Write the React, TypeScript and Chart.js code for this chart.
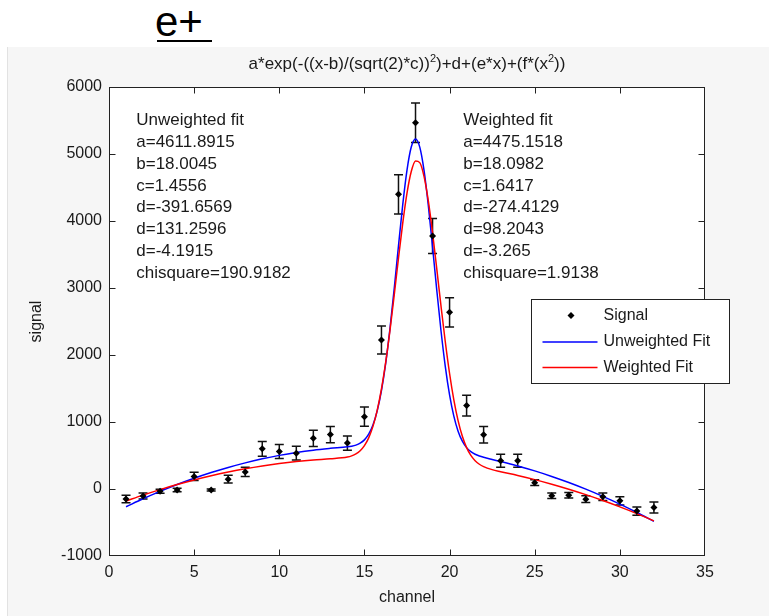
import React, { useEffect, useRef } from 'react';
import { Chart, registerables } from 'chart.js';

Chart.register(...registerables);

const FONT = '"Liberation Sans", Arial, Helvetica, sans-serif';
const TEXT = '#1a1a1a';

// ---- data ----
const channels = [1, 2, 3, 4, 5, 6, 7, 8, 9, 10, 11, 12, 13, 14, 15, 16, 17, 18, 19, 20, 21, 22, 23, 24, 25, 26, 27, 28, 29, 30, 31, 32];
const signal = [-150, -104, -35, -15, 188, -15, 147, 255, 600, 560, 535, 756, 812, 686, 1080, 2224, 4398, 5468, 3776, 2637, 1245, 810, 421, 421, 95, -100, -93, -152, -115, -176, -330, -275];
const signalError = [55, 45, 30, 25, 62, 15, 57, 70, 110, 106, 104, 120, 122, 106, 145, 210, 292, 295, 260, 219, 155, 122, 96, 96, 42, 40, 40, 50, 55, 62, 62, 82];

const fitX = [1, 2, 3, 4, 5, 6, 7, 8, 9, 10, 11, 12, 13, 14, 14.25, 14.5, 14.75, 15, 15.25, 15.5, 15.75, 16, 16.25, 16.5, 16.75, 17, 17.25, 17.5, 17.75, 18, 18.25, 18.5, 18.75, 19, 19.25, 19.5, 19.75, 20, 20.25, 20.5, 20.75, 21, 21.25, 21.5, 21.75, 22, 22.5, 23, 24, 25, 26, 27, 28, 29, 30, 31, 32];
const unweightedFit = [-264.6, -145.9, -35.6, 66.3, 159.9, 245.0, 321.8, 390.2, 450.2, 501.8, 545.0, 579.9, 606.5, 629.4, 639.2, 655.1, 683.4, 733.1, 818.0, 955.6, 1166.3, 1469.8, 1878.8, 2393.4, 2991.8, 3630.3, 4245.2, 4760.4, 5104.1, 5224.9, 5103.0, 4756.5, 4236.5, 3614.0, 2965.3, 2354.7, 1827.1, 1404.1, 1087.2, 863.5, 713.8, 617.6, 557.1, 518.4, 492.2, 472.6, 440.6, 410.1, 344.3, 270.1, 187.6, 96.7, -2.5, -110.2, -226.2, -350.6, -483.4];
const weightedFit = [-179.5, -91.1, -9.2, 66.2, 135.0, 197.3, 253.0, 302.3, 345.0, 381.1, 410.8, 433.9, 451.3, 477.1, 494.1, 522.9, 570.4, 646.5, 763.5, 935.0, 1174.4, 1492.5, 1892.6, 2367.1, 2896.1, 3445.4, 3969.2, 4416.4, 4737.9, 4896.2, 4871.3, 4665.6, 4303.5, 3825.6, 3281.8, 2723.5, 2193.7, 1724.0, 1331.3, 1021.0, 786.8, 618.3, 501.3, 422.3, 369.5, 333.8, 289.3, 258.6, 201.9, 140.1, 71.8, -3.1, -84.5, -172.4, -266.8, -367.7, -475.2];

const xRange = [0, 35];
const xStep = 5;
const yRange = [-1000, 6000];
const yStep = 1000;

const unweightedText = ['Unweighted fit', 'a=4611.8915', 'b=18.0045', 'c=1.4556', 'd=-391.6569', 'd=131.2596', 'd=-4.1915', 'chisquare=190.9182'];
const weightedText = ['Weighted fit', 'a=4475.1518', 'b=18.0982', 'c=1.6417', 'd=-274.4129', 'd=98.2043', 'd=-3.265', 'chisquare=1.9138'];
const textAnchorsX = [1.6, 20.8];
const textAnchorY = 5500;

const titleParts = [
  { t: 'a*exp(-((x-b)/(sqrt(2)*c))', sup: false },
  { t: '2', sup: true },
  { t: ')+d+(e*x)+(f*(x', sup: false },
  { t: '2', sup: true },
  { t: '))', sup: false },
];
const legendLabels = ['Signal', 'Unweighted Fit', 'Weighted Fit'];
const xTitle = 'channel';
const yTitle = 'signal';
const headerText = 'e+';

const BLUE = '#0000ff';
const RED = '#ff0000';

const areaPlugin = {
  id: 'areaFrame',
  beforeDraw(chart: any) {
    const { ctx, chartArea: a } = chart;
    ctx.save();
    ctx.fillStyle = '#ffffff';
    ctx.fillRect(a.left, a.top, a.right - a.left, a.bottom - a.top);
    ctx.restore();
  },
  afterDatasetsDraw(chart: any) {
    const { ctx, chartArea: a, scales } = chart;
    ctx.save();
    ctx.strokeStyle = '#222';
    ctx.lineWidth = 1;
    const L = Math.round(a.left) + 0.5;
    const R = Math.round(a.right) - 0.5;
    const T = Math.round(a.top) + 0.5;
    const B = Math.round(a.bottom) - 0.5;
    ctx.strokeRect(L, T, R - L, B - T);
    const tl = 6;
    ctx.beginPath();
    for (const t of scales.x.ticks) {
      const px = Math.min(R, Math.max(L, Math.round(scales.x.getPixelForValue(t.value)) + 0.5));
      ctx.moveTo(px, B); ctx.lineTo(px, B - tl);
      ctx.moveTo(px, T); ctx.lineTo(px, T + tl);
    }
    for (const t of scales.y.ticks) {
      const py = Math.min(B, Math.max(T, Math.round(scales.y.getPixelForValue(t.value)) + 0.5));
      ctx.moveTo(L, py); ctx.lineTo(L + tl, py);
      ctx.moveTo(R, py); ctx.lineTo(R - tl, py);
    }
    ctx.stroke();

    // fit annotations
    ctx.fillStyle = TEXT;
    ctx.font = `17px ${FONT}`;
    ctx.textBaseline = 'middle';
    ctx.textAlign = 'left';
    const blocks = [unweightedText, weightedText];
    blocks.forEach((lines, bi) => {
      const x = scales.x.getPixelForValue(textAnchorsX[bi]);
      const y0 = scales.y.getPixelForValue(textAnchorY);
      lines.forEach((s, i) => ctx.fillText(s, x, y0 + i * 21.8));
    });
    ctx.restore();
  },
};

const errorBarPlugin = {
  id: 'errorBars',
  beforeDatasetsDraw(chart: any) {
    const { ctx, scales, chartArea: a } = chart;
    ctx.save();
    ctx.beginPath();
    ctx.rect(a.left, a.top, a.right - a.left, a.bottom - a.top);
    ctx.clip();
    ctx.strokeStyle = '#111';
    ctx.lineWidth = 1.5;
    ctx.beginPath();
    channels.forEach((c, i) => {
      const x = scales.x.getPixelForValue(c);
      const y1 = scales.y.getPixelForValue(signal[i] + signalError[i]);
      const y2 = scales.y.getPixelForValue(signal[i] - signalError[i]);
      const cap = 4.5;
      ctx.moveTo(x, y1); ctx.lineTo(x, y2);
      ctx.moveTo(x - cap, y1); ctx.lineTo(x + cap, y1);
      ctx.moveTo(x - cap, y2); ctx.lineTo(x + cap, y2);
    });
    ctx.stroke();
    ctx.restore();
  },
};

const titleLegendPlugin = {
  id: 'titleLegend',
  afterDraw(chart: any) {
    const { ctx, chartArea: a } = chart;
    ctx.save();
    // title with superscripts
    const base = `17px ${FONT}`;
    const sup = `11px ${FONT}`;
    let total = 0;
    for (const p of titleParts) {
      ctx.font = p.sup ? sup : base;
      total += ctx.measureText(p.t).width;
    }
    let x = (a.left + a.right) / 2 - total / 2;
    const y = a.top - 18;
    ctx.fillStyle = TEXT;
    ctx.textBaseline = 'alphabetic';
    ctx.textAlign = 'left';
    for (const p of titleParts) {
      ctx.font = p.sup ? sup : base;
      ctx.fillText(p.t, x, p.sup ? y - 7 : y);
      x += ctx.measureText(p.t).width;
    }

    // legend
    const bx = Math.round(a.right) - 174 + 0.5;
    const by = Math.round(a.top) + 212 + 0.5;
    const bw = 198;
    const bh = 84;
    ctx.fillStyle = '#ffffff';
    ctx.fillRect(bx, by, bw, bh);
    ctx.strokeStyle = '#222';
    ctx.lineWidth = 1;
    ctx.strokeRect(bx, by, bw, bh);
    const rows = [by + 16, by + 42.5, by + 68];
    const lx1 = bx + 11;
    const lx2 = bx + 66;
    // signal marker
    ctx.fillStyle = '#000';
    const mx = (lx1 + lx2) / 2 + 1;
    ctx.beginPath();
    ctx.moveTo(mx, rows[0] - 3.5);
    ctx.lineTo(mx + 3.5, rows[0]);
    ctx.lineTo(mx, rows[0] + 3.5);
    ctx.lineTo(mx - 3.5, rows[0]);
    ctx.closePath();
    ctx.fill();
    ctx.lineWidth = 1.5;
    ctx.strokeStyle = BLUE;
    ctx.beginPath(); ctx.moveTo(lx1, rows[1]); ctx.lineTo(lx2, rows[1]); ctx.stroke();
    ctx.strokeStyle = RED;
    ctx.beginPath(); ctx.moveTo(lx1, rows[2]); ctx.lineTo(lx2, rows[2]); ctx.stroke();
    ctx.fillStyle = TEXT;
    ctx.font = `16px ${FONT}`;
    ctx.textBaseline = 'middle';
    legendLabels.forEach((s, i) => ctx.fillText(s, bx + 72, rows[i]));
    ctx.restore();
  },
};

export default function App() {
  const ref = useRef<HTMLCanvasElement | null>(null);

  useEffect(() => {
    if (!ref.current) return;
    const tickFont = { family: FONT, size: 16 };
    const chart = new Chart(ref.current, {
      type: 'scatter',
      data: {
        datasets: [
          {
            label: legendLabels[0],
            data: channels.map((c, i) => ({ x: c, y: signal[i] })),
            pointStyle: 'rectRot',
            pointRadius: 3.5,
            backgroundColor: '#000',
            borderWidth: 0,
            showLine: false,
          },
          {
            label: legendLabels[2],
            data: fitX.map((x, i) => ({ x, y: weightedFit[i] })),
            showLine: true,
            pointRadius: 0,
            borderColor: RED,
            borderWidth: 1.5,
            cubicInterpolationMode: 'monotone',
          },
          {
            label: legendLabels[1],
            data: fitX.map((x, i) => ({ x, y: unweightedFit[i] })),
            showLine: true,
            pointRadius: 0,
            borderColor: BLUE,
            borderWidth: 1.5,
            cubicInterpolationMode: 'monotone',
          },
        ],
      } as any,
      options: {
        animation: false,
        responsive: true,
        maintainAspectRatio: false,
        layout: { padding: { left: 0, right: 64, top: 87, bottom: 0 } },
        plugins: { legend: { display: false }, tooltip: { enabled: false }, title: { display: false } },
        scales: {
          x: {
            type: 'linear',
            min: xRange[0],
            max: xRange[1],
            grid: { display: false, drawTicks: false },
            border: { display: false },
            ticks: { stepSize: xStep, padding: 7, color: TEXT, font: tickFont, maxRotation: 0, callback: (v: any) => String(v) },
            title: { display: true, text: xTitle, color: TEXT, font: tickFont, padding: { top: 0, bottom: 9 } },
            afterFit: (s: any) => { s.height = 60; },
          },
          y: {
            type: 'linear',
            min: yRange[0],
            max: yRange[1],
            grid: { display: false, drawTicks: false },
            border: { display: false },
            ticks: { stepSize: yStep, padding: 7, color: TEXT, font: tickFont, callback: (v: any) => String(v) },
            title: { display: true, text: yTitle, color: TEXT, font: tickFont, padding: { top: 27, bottom: 0 } },
            afterFit: (s: any) => { s.width = 109; },
          },
        },
      } as any,
      plugins: [areaPlugin, errorBarPlugin, titleLegendPlugin],
    });
    return () => chart.destroy();
  }, []);

  return (
    <div style={{ position: 'fixed', left: 0, top: 0, width: 769, height: 616, background: '#ffffff', overflow: 'hidden' }}>
      <div style={{ position: 'absolute', left: 7, top: 47, right: 0, bottom: 0, background: '#f6f6f6', borderLeft: '1px solid #e2e2e2' }} />
      <div style={{ position: 'absolute', left: 155, top: 1, font: `42px ${FONT}`, lineHeight: '42px', color: '#000' }}>{headerText}</div>
      <div style={{ position: 'absolute', left: 157, top: 40, width: 55, height: 2, background: '#000' }} />
      <div style={{ position: 'absolute', left: 0, top: 0, width: 769, height: 616 }}>
        <canvas ref={ref} />
      </div>
    </div>
  );
}
